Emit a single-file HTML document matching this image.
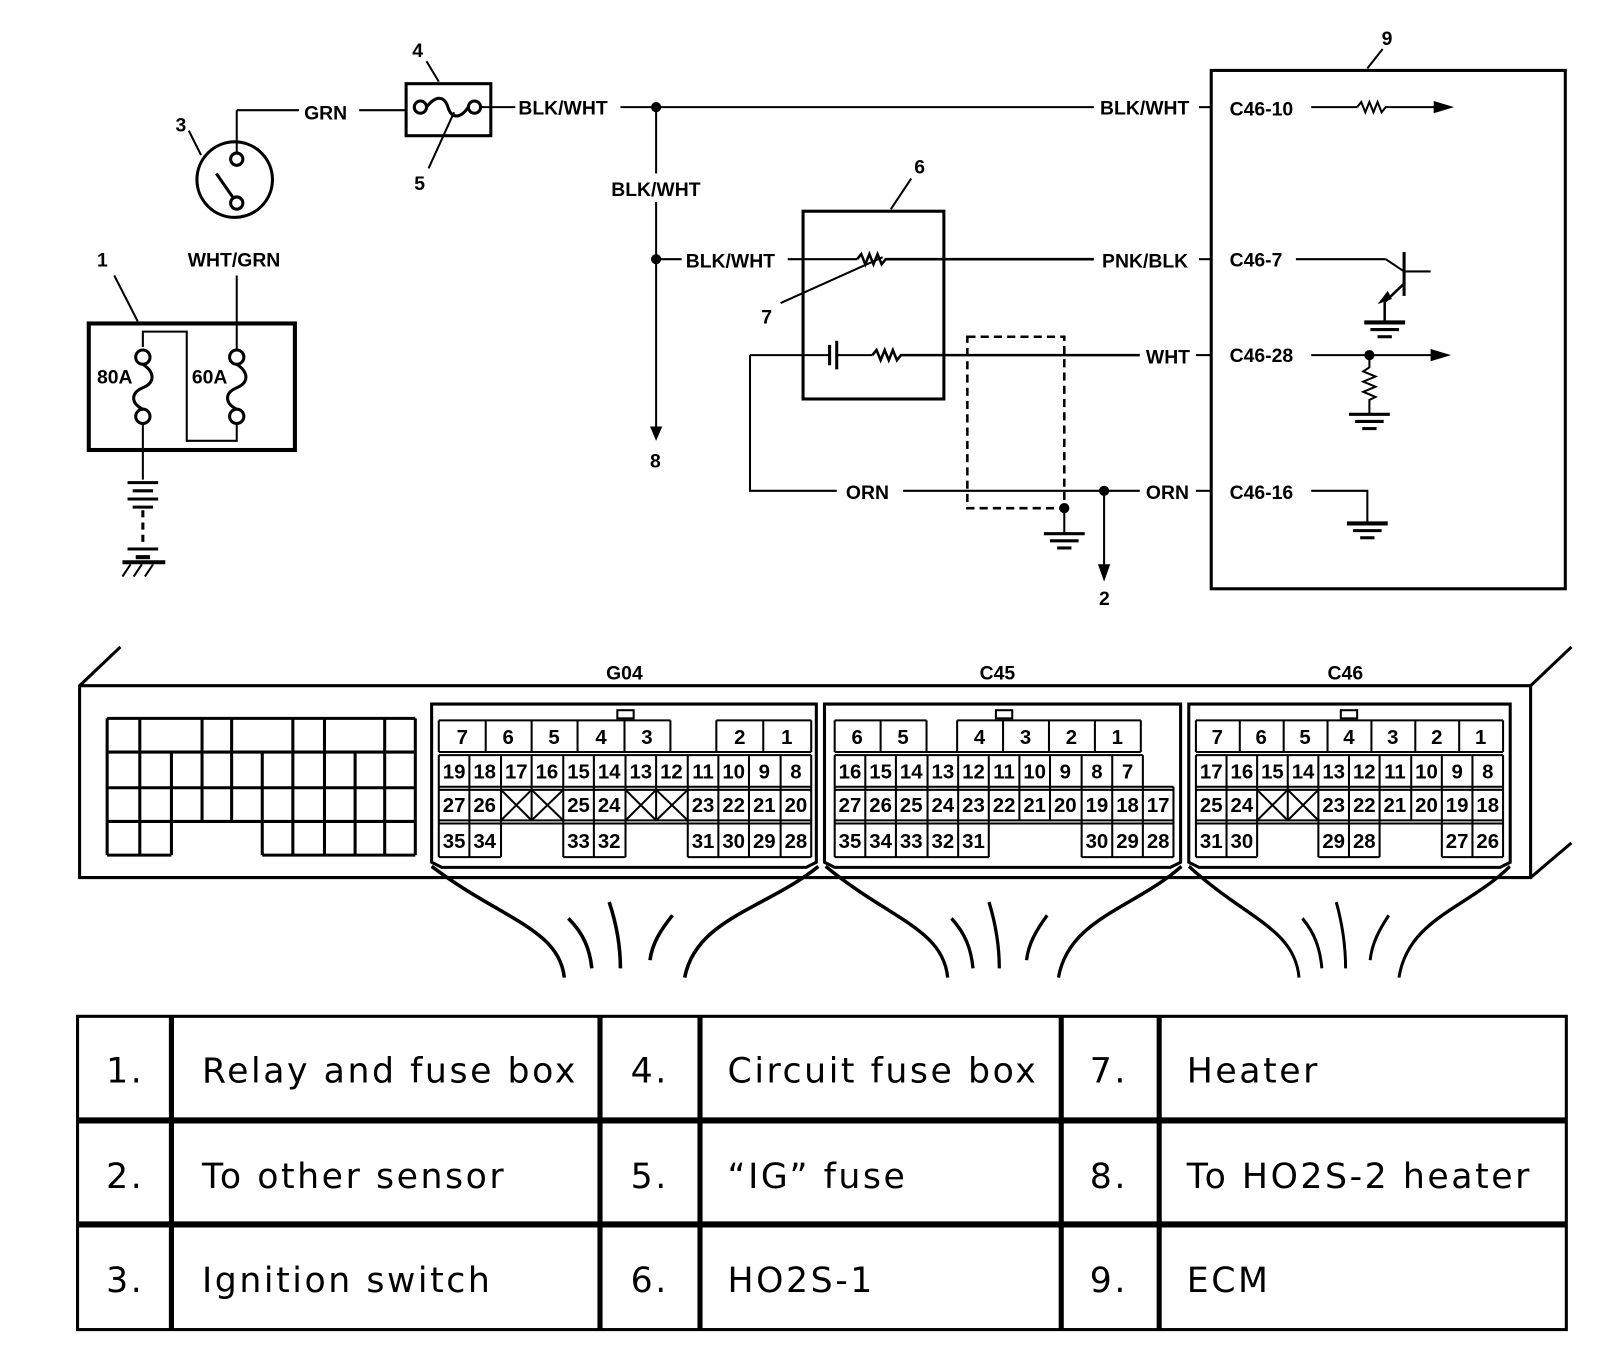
<!DOCTYPE html>
<html><head><meta charset="utf-8"><style>
html,body{margin:0;padding:0;background:#fff;width:1600px;height:1350px;overflow:hidden}
svg{display:block}
.l{font-family:"Liberation Sans",sans-serif;font-weight:bold;font-size:19px;fill:#000}
.p{font-family:"Liberation Sans",sans-serif;font-weight:bold;font-size:20px;fill:#000;text-anchor:middle}
.t{font-family:"DejaVu Sans","Liberation Sans",sans-serif;font-size:34px;fill:#000;letter-spacing:2.5px}
</style></head><body>
<svg width="1600" height="1350" viewBox="0 0 1568 1323" xmlns="http://www.w3.org/2000/svg">
<g stroke="#000" fill="none" stroke-width="2">
<rect x="87" y="317" width="202" height="124" stroke-width="4"/>
<line x1="112" y1="270" x2="135" y2="315"/>
<path d="M140 340 V325 H183 V432 H232 V415"/>
<circle cx="140" cy="350" r="7" stroke-width="3"/><circle cx="140" cy="408" r="7" stroke-width="3"/>
<path d="M140 357 C152 365 152 375 140 380 C128 385 128 395 140 401" stroke-width="3"/>
<circle cx="232" cy="350" r="7" stroke-width="3"/><circle cx="232" cy="408" r="7" stroke-width="3"/>
<path d="M232 357 C244 365 244 375 232 380 C220 385 220 395 232 401" stroke-width="3"/>
<line x1="140" y1="415" x2="140" y2="470"/>
<line x1="125" y1="473" x2="155" y2="473" stroke-width="3"/>
<line x1="130" y1="481" x2="150" y2="481" stroke-width="3"/>
<line x1="125" y1="489" x2="155" y2="489" stroke-width="3"/>
<line x1="130" y1="497" x2="150" y2="497" stroke-width="3"/>
<line x1="140" y1="500" x2="140" y2="535" stroke-dasharray="7,5" stroke-width="3"/>
<line x1="125" y1="538" x2="155" y2="538" stroke-width="3"/>
<line x1="133" y1="546" x2="147" y2="546" stroke-width="4"/>
<line x1="120" y1="551" x2="162" y2="551" stroke-width="4"/>
<path d="M128 553 L120 565 M139 553 L131 565 M150 553 L142 565" stroke-width="2"/>
<line x1="232" y1="343" x2="232" y2="270"/>
<circle cx="230" cy="176" r="37" stroke-width="3"/>
<circle cx="232" cy="156" r="6" stroke-width="3"/><circle cx="232" cy="199" r="6" stroke-width="3"/>
<line x1="212" y1="170" x2="228" y2="193" stroke-width="3"/>
<line x1="232" y1="150" x2="232" y2="108"/>
<line x1="232" y1="108" x2="293" y2="108"/>
<line x1="185" y1="128" x2="197" y2="152"/>
<line x1="352" y1="108" x2="398" y2="108"/>
<rect x="398" y="82" width="83" height="51" stroke-width="3"/>
<circle cx="412" cy="105" r="6" stroke-width="3"/><circle cx="465" cy="105" r="6" stroke-width="3"/>
<path d="M418 105 C428 92 436 95 439 105 C442 115 450 118 459 105" stroke-width="3"/>
<line x1="418" y1="60" x2="430" y2="80"/>
<line x1="420" y1="165" x2="445" y2="110"/>
<line x1="471" y1="105" x2="505" y2="105"/>
<line x1="608" y1="105" x2="1072" y2="105"/>
<line x1="1175" y1="105" x2="1187" y2="105"/>
<line x1="1285" y1="105" x2="1330" y2="105"/>
<path d="M1330 105 l4 -5 l4 10 l4 -10 l4 10 l4 -10 l4 10 l4 -5 H1410"/>
<line x1="643" y1="105" x2="643" y2="170"/>
<line x1="643" y1="198" x2="643" y2="420"/>
<line x1="643" y1="254" x2="668" y2="254"/>
<line x1="772" y1="254" x2="840" y2="254"/>
<path d="M840 254 l4 -5 l4 10 l4 -10 l4 10 l4 -10 l4 10 l4 -5 H1072" stroke-width="2.5"/>
<line x1="1175" y1="254" x2="1187" y2="254"/>
<line x1="1270" y1="254" x2="1358" y2="254"/>
<line x1="1358" y1="254" x2="1376" y2="266"/>
<line x1="1376" y1="247" x2="1376" y2="290" stroke-width="3"/>
<line x1="1376" y1="266" x2="1402" y2="266"/>
<line x1="1376" y1="278" x2="1357" y2="296" stroke-width="2.5"/>
<line x1="1357" y1="296" x2="1357" y2="315" stroke-width="2.5"/>
<rect x="787" y="207" width="138" height="184" stroke-width="3"/>
<line x1="873" y1="205" x2="893" y2="175"/>
<line x1="765" y1="297" x2="865" y2="252"/>
<path d="M735 348 H813"/>
<line x1="813" y1="338" x2="813" y2="358" stroke-width="3"/>
<line x1="820" y1="334" x2="820" y2="362" stroke-width="3"/>
<line x1="820" y1="348" x2="855" y2="348"/>
<path d="M855 348 l4 -5 l4 10 l4 -10 l4 10 l4 -10 l4 10 l4 -5 H1117" stroke-width="2.5"/>
<line x1="1172" y1="348" x2="1187" y2="348"/>
<line x1="1285" y1="348" x2="1405" y2="348"/>
<path d="M1342 348 V360 l-6 4 l12 5 l-12 5 l12 5 l-12 5 l12 5 l-6 3 V405"/>
<rect x="948" y="330" width="95" height="168" stroke-dasharray="8,5" stroke-width="2.5"/>
<line x1="1043" y1="498" x2="1043" y2="522"/>
<path d="M735 348 V481 H820"/>
<line x1="885" y1="481" x2="1117" y2="481"/>
<line x1="1172" y1="481" x2="1187" y2="481"/>
<path d="M1285 481 H1340 V512"/>
<line x1="1082" y1="481" x2="1082" y2="555"/>
<rect x="1187" y="69" width="347" height="508" stroke-width="3"/>
<line x1="1355" y1="48" x2="1340" y2="67"/>
</g>
<g fill="#000">
<circle cx="643" cy="105" r="5"/><circle cx="643" cy="254" r="5"/><circle cx="1342" cy="348" r="5"/>
<circle cx="1043" cy="498" r="5"/><circle cx="1082" cy="481" r="5"/>
<polygon points="1405,99 1425,105 1405,111"/>
<polygon points="1402,342 1422,348 1402,354"/>
<polygon points="637,418 643,432 649,418"/>
<polygon points="1076,553 1082,570 1088,553"/>
<polygon points="1350,298 1360,285 1364,293"/>
</g>
<g stroke="#000" stroke-width="3">
<line x1="1337" y1="316" x2="1377" y2="316" stroke-width="4"/><line x1="1343" y1="323" x2="1371" y2="323"/><line x1="1350" y1="330" x2="1364" y2="330"/>
<line x1="1322" y1="406" x2="1362" y2="406" stroke-width="3"/><line x1="1328" y1="413" x2="1356" y2="413"/><line x1="1335" y1="420" x2="1349" y2="420"/>
<line x1="1320" y1="513" x2="1360" y2="513" stroke-width="4"/><line x1="1326" y1="520" x2="1354" y2="520"/><line x1="1333" y1="527" x2="1347" y2="527"/>
<line x1="1023" y1="523" x2="1063" y2="523" stroke-width="3"/><line x1="1029" y1="530" x2="1057" y2="530"/><line x1="1036" y1="537" x2="1050" y2="537"/>
</g>
<g class="l">
<text x="95" y="261">1</text>
<text x="172" y="129">3</text>
<text x="184" y="261">WHT/GRN</text>
<text x="298" y="117">GRN</text>
<text x="404" y="56">4</text>
<text x="406" y="186">5</text>
<text x="508" y="112">BLK/WHT</text>
<text x="599" y="192">BLK/WHT</text>
<text x="1078" y="112">BLK/WHT</text>
<text x="1205" y="113">C46-10</text>
<text x="672" y="262">BLK/WHT</text>
<text x="1080" y="262">PNK/BLK</text>
<text x="1205" y="261">C46-7</text>
<text x="896" y="170">6</text>
<text x="746" y="317">7</text>
<text x="637" y="458">8</text>
<text x="1123" y="356">WHT</text>
<text x="1205" y="355">C46-28</text>
<text x="829" y="489">ORN</text>
<text x="1123" y="489">ORN</text>
<text x="1205" y="489">C46-16</text>
<text x="1077" y="593">2</text>
<text x="1354" y="44">9</text>
<text x="95" y="376">80A</text>
<text x="188" y="376">60A</text>
<text x="594" y="666">G04</text>
<text x="960" y="666">C45</text>
<text x="1301" y="666">C46</text>
</g>
<g stroke="#000" fill="none" stroke-width="3">
<path d="M118 634 L78 672 V860 H1500 V672 H78"/>
<path d="M1500 672 L1540 634 M1500 860 L1540 826"/>
<path d="M105 704 H407 M105 737 H407 M105 772 H407 M105 805 H407 M105 838 H168 M257 838 H407"/>
<path d="M105 704 V838 M137 704 V838 M168 737 V838 M198 704 V805 M227 704 V805 M257 737 V838 M287 704 V838 M318 704 V838 M348 737 V838 M377 704 V838 M407 704 V838"/>
<path d="M423 690 H800 V845 L790 850 H433 L423 845 Z"/>
<path d="M808 690 H1157 V845 L1147 850 H818 L808 845 Z"/>
<path d="M1165 690 H1480 V845 L1470 850 H1175 L1165 845 Z"/>
<rect x="605" y="696" width="16" height="8" stroke-width="2"/>
<rect x="976" y="696" width="16" height="8" stroke-width="2"/>
<rect x="1314" y="696" width="16" height="8" stroke-width="2"/>
</g>
<g stroke="#000" fill="none" stroke-width="3.5">
<g transform="translate(612,0)"><path d="M-189 849 C-122 900 -64 910 -59 958 M190 849 C140 890 70 900 59 958 M-55 900 C-40 915 -34 930 -32 949 M-15 884 C-8 905 -4 925 -4 949 M47 897 C35 912 27 925 25 941"/></g>
<g transform="translate(983,0) scale(0.92,1)"><path d="M-189 849 C-122 900 -64 910 -59 958 M190 849 C140 890 70 900 59 958 M-55 900 C-40 915 -34 930 -32 949 M-15 884 C-8 905 -4 925 -4 949 M47 897 C35 912 27 925 25 941"/></g>
<g transform="translate(1322,0) scale(0.83,1)"><path d="M-189 849 C-122 900 -64 910 -59 958 M190 849 C140 890 70 900 59 958 M-55 900 C-40 915 -34 930 -32 949 M-15 884 C-8 905 -4 925 -4 949 M47 897 C35 912 27 925 25 941"/></g>
</g>
<g stroke="#000" fill="none" stroke-width="2">
<path d="M430 706 H657 M430 737 H795 M702 706 H795 M430 706 V737 M476 706 V737 M521 706 V737 M566 706 V737 M612 706 V737 M657 706 V737 M702 706 V737 M748 706 V737 M795 706 V737"/>
<path d="M430 740 H795 M430 771 H795 M430 774 H795 M430 804 H795 M430 807 H795 M430 840 H491 M552 840 H613 M674 840 H795"/>
<path d="M430 740 V840 M460 740 V840 M491 740 V840 M521 740 V804 M552 740 V840 M582 740 V840 M613 740 V840 M643 740 V804 M674 740 V840 M704 740 V840 M734 740 V840 M765 740 V840 M795 740 V840"/>
<path d="M491 774 L521 804 M521 774 L491 804 M521 774 L552 804 M552 774 L521 804 M613 774 L643 804 M643 774 L613 804 M643 774 L674 804 M674 774 L643 804"/>
<path d="M818 706 H908 M938 706 H1118 M818 737 H1118 M818 706 V737 M863 706 V737 M908 706 V737 M938 706 V737 M983 706 V737 M1028 706 V737 M1073 706 V737 M1118 706 V737"/>
<path d="M818 740 H1120 M818 771 H1150 M818 774 H1150 M818 804 H1150 M818 807 H1150 M818 840 H969 M1060 840 H1150"/>
<path d="M818 740 V840 M848 740 V840 M878 740 V840 M909 740 V840 M939 740 V840 M969 740 V840 M999 740 V804 M1029 740 V804 M1060 740 V840 M1090 740 V840 M1120 740 V840 M1150 771 V840"/>
<path d="M1172 706 H1473 M1172 737 H1473 M1172 706 V737 M1215 706 V737 M1258 706 V737 M1301 706 V737 M1344 706 V737 M1387 706 V737 M1430 706 V737 M1473 706 V737"/>
<path d="M1172 740 H1473 M1172 771 H1473 M1172 774 H1473 M1172 804 H1473 M1172 807 H1473 M1172 840 H1232 M1292 840 H1352 M1413 840 H1473"/>
<path d="M1172 740 V840 M1202 740 V840 M1232 740 V840 M1262 740 V804 M1292 740 V840 M1322 740 V840 M1352 740 V840 M1383 740 V804 M1413 740 V840 M1443 740 V840 M1473 740 V840"/>
<path d="M1232 774 L1262 804 M1262 774 L1232 804 M1262 774 L1292 804 M1292 774 L1262 804"/>
</g>
<g class="p">
<text x="453" y="729">7</text><text x="498" y="729">6</text><text x="543" y="729">5</text><text x="589" y="729">4</text><text x="634" y="729">3</text><text x="725" y="729">2</text><text x="771" y="729">1</text>
<text x="445" y="763">19</text><text x="475" y="763">18</text><text x="506" y="763">17</text><text x="536" y="763">16</text><text x="567" y="763">15</text><text x="597" y="763">14</text><text x="628" y="763">13</text><text x="658" y="763">12</text><text x="689" y="763">11</text><text x="719" y="763">10</text><text x="749" y="763">9</text><text x="780" y="763">8</text>
<text x="445" y="796">27</text><text x="475" y="796">26</text><text x="567" y="796">25</text><text x="597" y="796">24</text><text x="689" y="796">23</text><text x="719" y="796">22</text><text x="749" y="796">21</text><text x="780" y="796">20</text>
<text x="445" y="831">35</text><text x="475" y="831">34</text><text x="567" y="831">33</text><text x="597" y="831">32</text><text x="689" y="831">31</text><text x="719" y="831">30</text><text x="749" y="831">29</text><text x="780" y="831">28</text>
<text x="840" y="729">6</text><text x="885" y="729">5</text><text x="960" y="729">4</text><text x="1005" y="729">3</text><text x="1050" y="729">2</text><text x="1095" y="729">1</text>
<text x="833" y="763">16</text><text x="863" y="763">15</text><text x="893" y="763">14</text><text x="924" y="763">13</text><text x="954" y="763">12</text><text x="984" y="763">11</text><text x="1014" y="763">10</text><text x="1044" y="763">9</text><text x="1075" y="763">8</text><text x="1105" y="763">7</text>
<text x="833" y="796">27</text><text x="863" y="796">26</text><text x="893" y="796">25</text><text x="924" y="796">24</text><text x="954" y="796">23</text><text x="984" y="796">22</text><text x="1014" y="796">21</text><text x="1044" y="796">20</text><text x="1075" y="796">19</text><text x="1105" y="796">18</text><text x="1135" y="796">17</text>
<text x="833" y="831">35</text><text x="863" y="831">34</text><text x="893" y="831">33</text><text x="924" y="831">32</text><text x="954" y="831">31</text><text x="1075" y="831">30</text><text x="1105" y="831">29</text><text x="1135" y="831">28</text>
<text x="1193" y="729">7</text><text x="1236" y="729">6</text><text x="1279" y="729">5</text><text x="1322" y="729">4</text><text x="1365" y="729">3</text><text x="1408" y="729">2</text><text x="1451" y="729">1</text>
<text x="1187" y="763">17</text><text x="1217" y="763">16</text><text x="1247" y="763">15</text><text x="1277" y="763">14</text><text x="1307" y="763">13</text><text x="1337" y="763">12</text><text x="1367" y="763">11</text><text x="1398" y="763">10</text><text x="1428" y="763">9</text><text x="1458" y="763">8</text>
<text x="1187" y="796">25</text><text x="1217" y="796">24</text><text x="1307" y="796">23</text><text x="1337" y="796">22</text><text x="1367" y="796">21</text><text x="1398" y="796">20</text><text x="1428" y="796">19</text><text x="1458" y="796">18</text>
<text x="1187" y="831">31</text><text x="1217" y="831">30</text><text x="1307" y="831">29</text><text x="1337" y="831">28</text><text x="1428" y="831">27</text><text x="1458" y="831">26</text>
</g>
<g stroke="#000" fill="none">
<rect x="76" y="996" width="1459" height="307" stroke-width="3"/>
<path d="M76 1098 H1535 M76 1200 H1535" stroke-width="6"/>
<path d="M168 996 V1303 M588 996 V1303 M686 996 V1303 M1040 996 V1303 M1136 996 V1303" stroke-width="5"/>
</g>
<g class="t">
<text x="104" y="1061">1.</text><text x="198" y="1061">Relay and fuse box</text>
<text x="618" y="1061">4.</text><text x="713" y="1061">Circuit fuse box</text>
<text x="1068" y="1061">7.</text><text x="1163" y="1061">Heater</text>
<text x="104" y="1164">2.</text><text x="198" y="1164">To other sensor</text>
<text x="618" y="1164">5.</text><text x="713" y="1164">“IG” fuse</text>
<text x="1068" y="1164">8.</text><text x="1163" y="1164">To HO2S-2 heater</text>
<text x="104" y="1266">3.</text><text x="198" y="1266">Ignition switch</text>
<text x="618" y="1266">6.</text><text x="713" y="1266">HO2S-1</text>
<text x="1068" y="1266">9.</text><text x="1163" y="1266">ECM</text>
</g>
</svg>
</body></html>
